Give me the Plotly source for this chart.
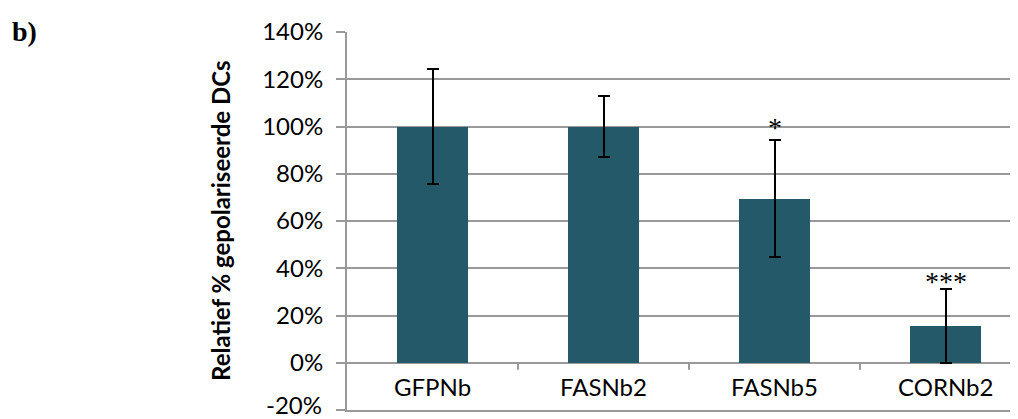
import plotly.graph_objects as go

categories = ["GFPNb", "FASNb2", "FASNb5", "CORNb2"]
values = [1.00, 1.00, 0.694, 0.156]
errors = [0.244, 0.13, 0.247, 0.156]
stars = ["", "", "*", "***"]
star_y = [None, None, 1.02, 0.37]
y_ticks = [-0.2, 0, 0.2, 0.4, 0.6, 0.8, 1.0, 1.2, 1.4]
y_ticktext = ["-20%", "0%", "20%", "40%", "60%", "80%", "100%", "120%", "140%"]

xs = list(range(len(categories)))
grid = "#999999"
font = "Lato"

# page body has an 8px margin; compensate so the plot lands at the reference pixels
PW, PH = 671, 378  # plot area size

fig = go.Figure()
fig.add_trace(go.Bar(
    x=xs, y=values, width=0.41,
    marker=dict(color="#235968", line=dict(width=0)),
    error_y=dict(type="data", array=errors, visible=True, color="black",
                 thickness=2, width=6),
    showlegend=False,
))

annotations = []
for i, c in enumerate(categories):
    annotations.append(dict(x=i, y=-0.1, xref="x", yref="y", text=c,
                            showarrow=False, font=dict(family=font, size=24, color="black"),
                            yanchor="middle"))
    if stars[i]:
        annotations.append(dict(x=i, y=star_y[i], xref="x", yref="y",
                                text=stars[i], showarrow=False, yanchor="middle", yshift=-6,
                                font=dict(family="Liberation Serif", size=28, color="black")))
# lowest tick label drawn as annotation, nudged up so it stays inside the page
annotations.append(dict(x=(324 - 347) / PW, y=y_ticks[0], xref="paper", yref="y",
                        text=y_ticktext[0], showarrow=False, xanchor="right",
                        yanchor="middle", yshift=6,
                        font=dict(family=font, size=24, color="black")))
annotations.append(dict(x=(220 - 347) / PW, y=0.5, xref="paper", yref="paper",
                        text="<b>Relatief % gepolariseerde DCs</b>", textangle=-90,
                        showarrow=False, xanchor="center", yanchor="middle",
                        font=dict(family=font, size=24, color="black")))
annotations.append(dict(x=(10 - 347) / PW, y=(410 - 14) / PH, xref="paper", yref="paper",
                        text="<b>b)</b>", showarrow=False, xanchor="left", yanchor="top",
                        font=dict(family="Liberation Serif", size=28, color="black")))

shapes = []
for b in [0.5, 1.5, 2.5]:
    shapes.append(dict(type="line", xref="x", yref="y", x0=b, x1=b, y0=0, y1=-0.03,
                       line=dict(color=grid, width=2)))

fig.update_layout(
    width=1010, height=411,
    margin=dict(l=339, r=0, t=24, b=9, autoexpand=False),
    paper_bgcolor="white", plot_bgcolor="white",
    xaxis=dict(range=[-0.5, 3.424], showticklabels=False, showgrid=False,
               zeroline=False, showline=True, linecolor=grid, linewidth=2,
               fixedrange=True, automargin=False),
    yaxis=dict(range=[-0.2, 1.4], tickvals=y_ticks, ticktext=[""] + y_ticktext[1:],
               showgrid=True, gridcolor=grid, gridwidth=2,
               zeroline=True, zerolinecolor=grid, zerolinewidth=2,
               showline=True, linecolor=grid, linewidth=2,
               ticks="outside", ticklen=9, tickcolor=grid, tickwidth=2,
               ticklabelstandoff=8, ticklabeloverflow="allow", automargin=False,
               tickfont=dict(family=font, size=24, color="black")),
    annotations=annotations,
    shapes=shapes,
    bargap=0,
)
fig.write_html("out.html")
